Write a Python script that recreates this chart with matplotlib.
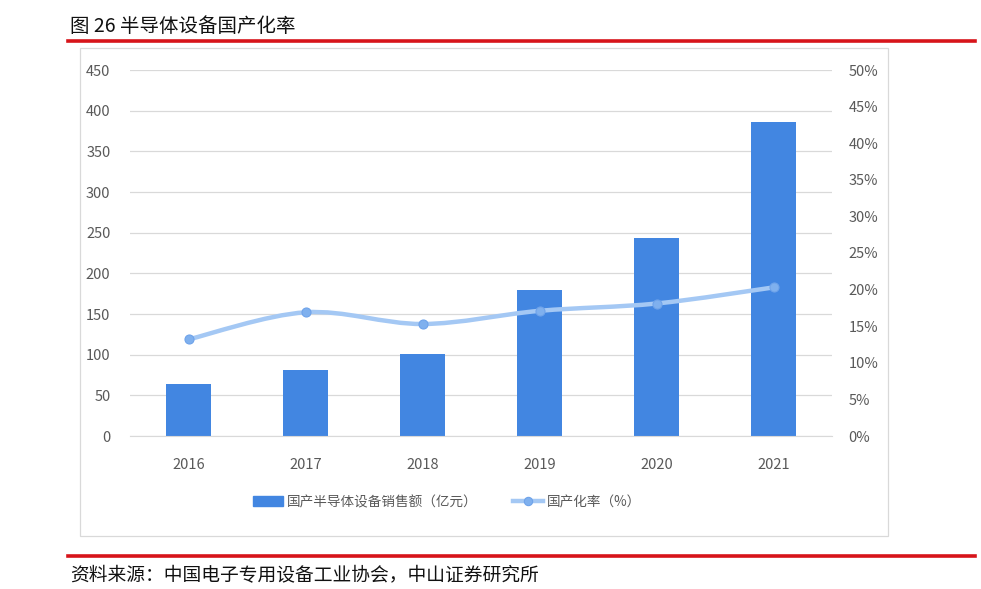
import matplotlib
matplotlib.use("Agg")
import matplotlib.pyplot as plt
from matplotlib.patches import Rectangle, PathPatch
from matplotlib.path import Path as MPath
from matplotlib.lines import Line2D
import numpy as np

plt.rcParams["font.family"] = ["Noto Sans CJK SC", "DejaVu Sans"]

years = ["2016", "2017", "2018", "2019", "2020", "2021"]
sales = [64, 81, 101, 180, 243, 386]            # 国产半导体设备销售额（亿元）
rate = [13.2, 16.9, 15.3, 17.1, 18.1, 20.3]     # 国产化率（%）

BAR = "#4286E1"
LINE = "#A4C8F4"
MARK = "#7FB0EE"
RED = "#D7141A"
GRID = "#D9D9D9"
TICK = "#595959"

W, H = 981, 589
fig = plt.figure(figsize=(W / 100, H / 100), dpi=100)


def fx(px):
    return px / W


def fy(py):
    return 1 - py / H


# title + rules
fig.text(fx(70), fy(26), "图 26 半导体设备国产化率", fontsize=14, va="center", ha="left", color="#111111")
fig.add_artist(Line2D([fx(68), fx(975)], [fy(41), fy(41)], color=RED, lw=2.6))
fig.add_artist(Line2D([fx(68), fx(975)], [fy(556), fy(556)], color=RED, lw=2.6))
fig.text(fx(70), fy(576), "资料来源：中国电子专用设备工业协会，中山证券研究所", fontsize=13.5,
         va="center", ha="left", color="#111111")

# chart frame
fig.add_artist(Rectangle((fx(80), fy(536)), fx(888) - fx(80), fy(48) - fy(536),
                         fill=False, ec="#D9D9D9", lw=0.9, transform=fig.transFigure))

ax = fig.add_axes([fx(130), fy(436), fx(832) - fx(130), fy(70) - fy(436)])
x = np.arange(len(years))
ax.bar(x, sales, width=0.39, color=BAR, zorder=2)
ax.set_xlim(-0.5, len(years) - 0.5)
ax.set_ylim(0, 450)
ax.set_yticks(range(0, 451, 50))
ax.set_xticks(x)
ax.set_xticklabels(years)
ax.grid(axis="y", color=GRID, lw=0.9, zorder=0)
for s in ax.spines.values():
    s.set_visible(False)
ax.spines["bottom"].set_visible(True)
ax.spines["bottom"].set_color(GRID)
ax.tick_params(axis="both", length=0, colors=TICK, labelsize=10.5)
ax.tick_params(axis="y", pad=14)
ax.tick_params(axis="x", pad=16)

ax2 = ax.twinx()
ax2.set_ylim(0, 50)
ax2.set_yticks(range(0, 51, 5))
ax2.set_yticklabels([f"{v}%" for v in range(0, 51, 5)])
for s in ax2.spines.values():
    s.set_visible(False)
ax2.tick_params(axis="y", length=0, colors=TICK, labelsize=10.5, pad=12)

# smoothed line (Catmull-Rom -> cubic bezier through the data points)
pts = np.column_stack([x, rate]).astype(float)
verts = [tuple(pts[0])]
codes = [MPath.MOVETO]
for i in range(len(pts) - 1):
    p0 = pts[max(i - 1, 0)]
    p1, p2 = pts[i], pts[i + 1]
    p3 = pts[min(i + 2, len(pts) - 1)]
    c1 = p1 + (p2 - p0) / 6
    c2 = p2 - (p3 - p1) / 6
    verts += [tuple(c1), tuple(c2), tuple(p2)]
    codes += [MPath.CURVE4] * 3
ax2.add_patch(PathPatch(MPath(verts, codes), fc="none", ec=LINE, lw=3.2, zorder=3,
                        capstyle="round"))
ax2.plot(x, rate, ls="none", marker="o", ms=6.5, mfc=MARK, mec="#6FA3EA", mew=0.8, zorder=4)

# legend
handles = [Rectangle((0, 0), 1, 1, color=BAR),
           Line2D([0], [0], color=LINE, lw=3.2, marker="o", ms=6, mfc=MARK, mec="#6FA3EA", mew=0.8)]
labels = ["国产半导体设备销售额（亿元）", "国产化率（%）"]
fig.legend(handles, labels, loc="center", bbox_to_anchor=(fx(447), fy(502)), ncol=2,
           frameon=False, fontsize=9.8, labelcolor=TICK, handlelength=2.2,
           handletextpad=0.3, columnspacing=2.6)

fig.savefig("out.png", dpi=100)
